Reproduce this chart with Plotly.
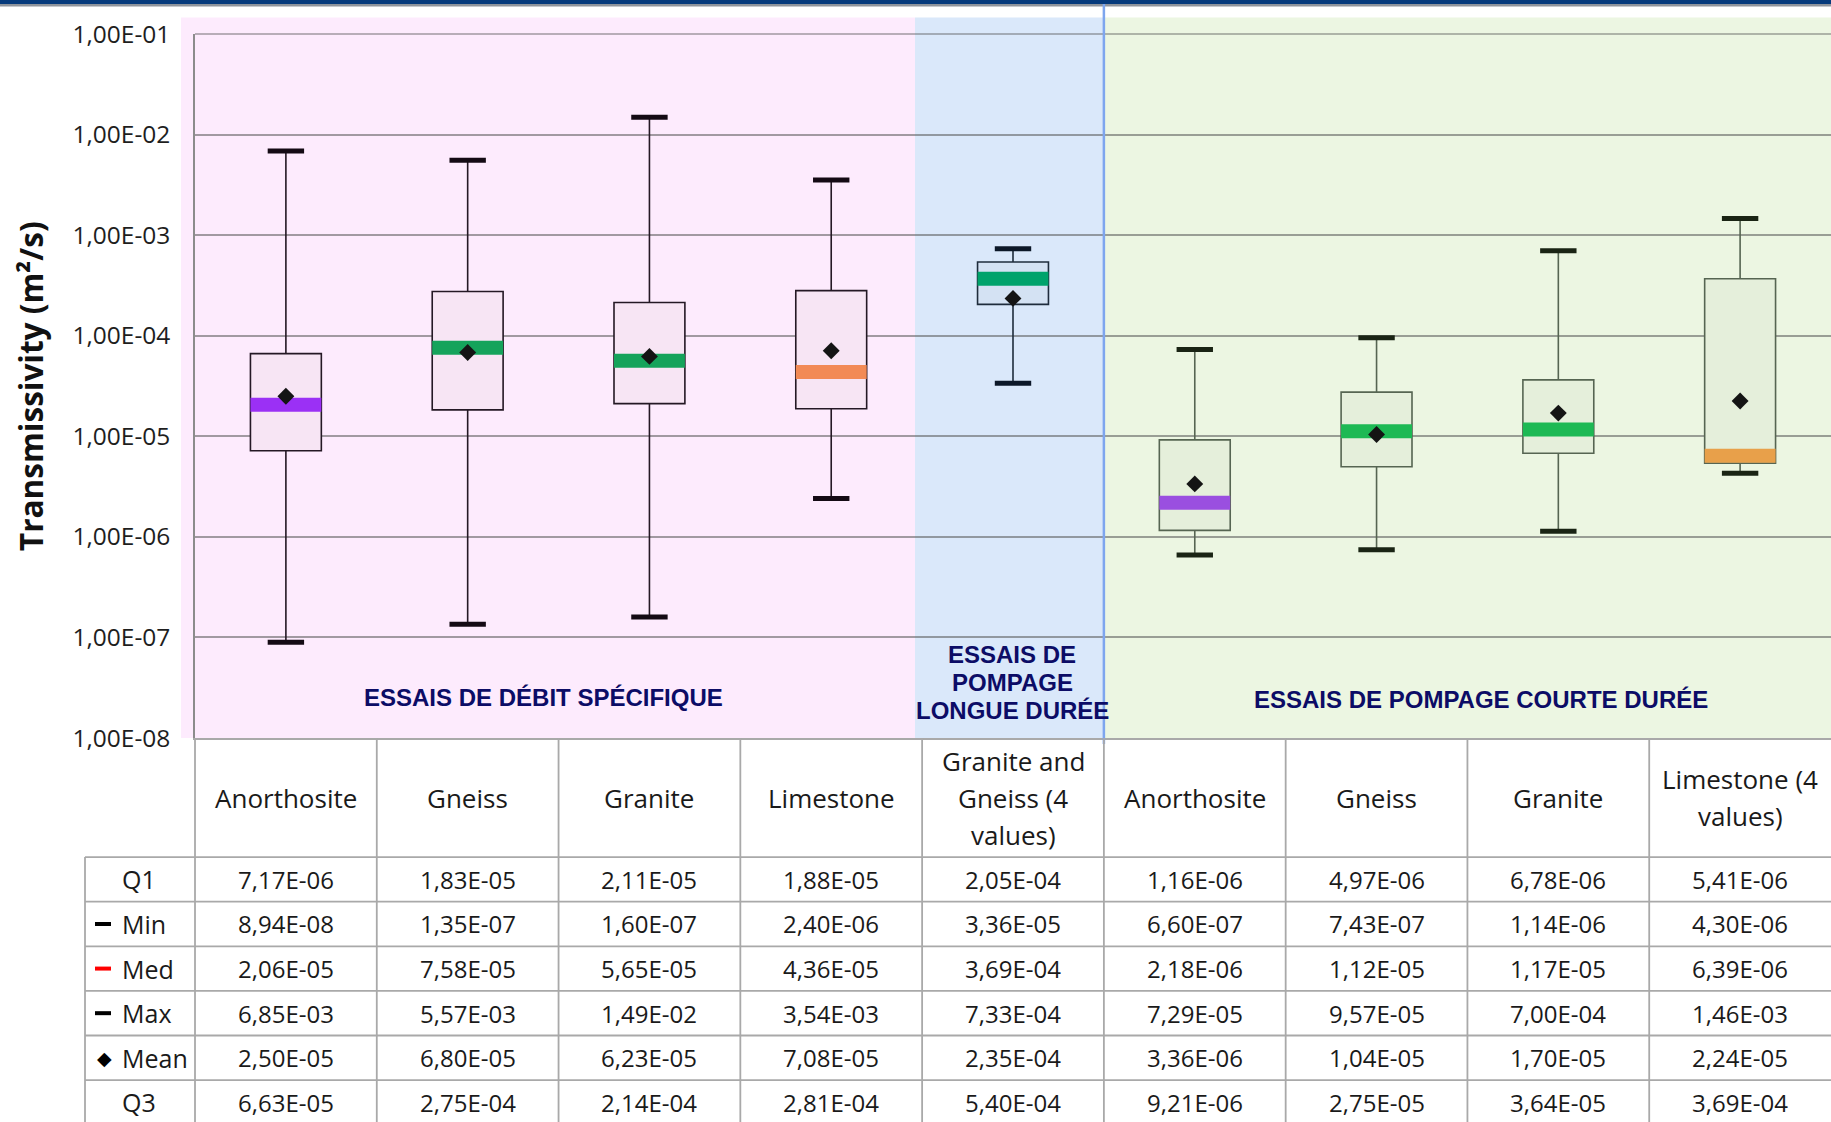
import plotly.graph_objects as go

# ---- Transmissivity statistics per test type and rock type (m²/s) ----
categories = ["Anorthosite", "Gneiss", "Granite", "Limestone",
              "Granite and Gneiss (4 values)", "Anorthosite", "Gneiss",
              "Granite", "Limestone (4 values)"]
header_lines = [["Anorthosite"], ["Gneiss"], ["Granite"], ["Limestone"],
                ["Granite and", "Gneiss (4", "values)"], ["Anorthosite"],
                ["Gneiss"], ["Granite"], ["Limestone (4", "values)"]]

q1_vals = [7.17e-06, 1.83e-05, 2.11e-05, 1.88e-05, 2.05e-04,
           1.16e-06, 4.97e-06, 6.78e-06, 5.41e-06]
min_vals = [8.94e-08, 1.35e-07, 1.60e-07, 2.40e-06, 3.36e-05,
            6.60e-07, 7.43e-07, 1.14e-06, 4.30e-06]
med_vals = [2.06e-05, 7.58e-05, 5.65e-05, 4.36e-05, 3.69e-04,
            2.18e-06, 1.12e-05, 1.17e-05, 6.39e-06]
max_vals = [6.85e-03, 5.57e-03, 1.49e-02, 3.54e-03, 7.33e-04,
            7.29e-05, 9.57e-05, 7.00e-04, 1.46e-03]
mean_vals = [2.50e-05, 6.80e-05, 6.23e-05, 7.08e-05, 2.35e-04,
             3.36e-06, 1.04e-05, 1.70e-05, 2.24e-05]
q3_vals = [6.63e-05, 2.75e-04, 2.14e-04, 2.81e-04, 5.40e-04,
           9.21e-06, 2.75e-05, 3.64e-05, 3.69e-04]

row_labels = ["Q1", "Min", "Med", "Max", "Mean", "Q3"]
# legend key drawn in front of each row label: None, "dash" or "diamond"
row_keys = [None, "dash", "dash", "dash", "diamond", None]
row_key_colors = ["#000000", "#000000", "#ff0000", "#000000", "#000000", "#000000"]

# test family of each rock column
group_index = [0, 0, 0, 0, 1, 2, 2, 2, 2]
group_titles = [["ESSAIS DE DÉBIT SPÉCIFIQUE"],
                ["ESSAIS DE", "POMPAGE", "LONGUE DURÉE"],
                ["ESSAIS DE POMPAGE COURTE DURÉE"]]

tick_vals = [1e-08, 1e-07, 1e-06, 1e-05, 1e-04, 1e-03, 1e-02, 1e-01]
tick_text = ["1,00E-08", "1,00E-07", "1,00E-06", "1,00E-05",
             "1,00E-04", "1,00E-03", "1,00E-02", "1,00E-01"]

# ---- styling ----
W, H = 1831, 1122
PLOT_L, PLOT_T, PLOT_B = 195, 34, 738
LABEL_COL_L = 85
HEADER_ROWS = 2.67          # header height in row units
TABLE_BOTTOM = 5.94         # visible part of the last row

group_bg = ["#fdebfd", "#dae8fa", "#ecf6e2"]
group_box_fill = ["#f7e5f4", "#d4e2f3", "#e5efdb"]
group_outline = ["#241824", "#1f2c3c", "#566552"]
group_cap = ["#140a14", "#0c1828", "#1a2414"]
group_bounds_px = [(181, 915), (915, 1103), (1103, W)]
group_title_px = [(543, 697), (1012, 682), (1481, 699)]
median_colors = ["#9b30f5", "#15a35b", "#15a35b", "#f28a55", "#00a36b",
                 "#9a4fe0", "#1db954", "#1db954", "#e8a04a"]

BOX_W = 0.39
FONT = "Open Sans"
TITLE_FONT = "Liberation Sans"
GRID_COLOR = "rgba(85,85,85,0.55)"


def px(x):
    return x / W


def py(y):
    return 1 - y / H


def fmt(v):
    return f"{v:.2E}".replace(".", ",")


fig = go.Figure()

# boxes and whiskers
for i in range(len(categories)):
    g = group_index[i]
    fig.add_trace(go.Box(
        x=[i], q1=[q1_vals[i]], median=[med_vals[i]], q3=[q3_vals[i]],
        lowerfence=[min_vals[i]], upperfence=[max_vals[i]],
        width=BOX_W, whiskerwidth=0, boxpoints=False,
        fillcolor=group_box_fill[g],
        line=dict(color=group_outline[g], width=1.6),
        showlegend=False, hoverinfo="skip", name=categories[i]))

# median bands
for i in range(len(categories)):
    fig.add_trace(go.Scatter(
        x=[i - BOX_W / 2, i + BOX_W / 2], y=[med_vals[i], med_vals[i]],
        mode="lines", line=dict(color=median_colors[i], width=14),
        showlegend=False, hoverinfo="skip"))

# whisker caps at min and max
for i in range(len(categories)):
    g = group_index[i]
    fig.add_trace(go.Scatter(
        x=[i, i], y=[min_vals[i], max_vals[i]], mode="markers",
        marker=dict(symbol="line-ew", size=26,
                    line=dict(width=5, color=group_cap[g])),
        showlegend=False, hoverinfo="skip"))

# means
fig.add_trace(go.Scatter(
    x=list(range(len(categories))), y=mean_vals, mode="markers",
    marker=dict(symbol="diamond", size=13, color="#141414"),
    showlegend=False, hoverinfo="skip"))

# anchor trace for the statistics table subplot
fig.add_trace(go.Scatter(x=[0], y=[0], xaxis="x", yaxis="y2", mode="markers",
                         marker=dict(opacity=0), showlegend=False,
                         hoverinfo="skip"))

shapes = []
annotations = []

# top banner
shapes.append(dict(type="rect", xref="paper", yref="paper", x0=0, x1=1,
                   y0=py(4), y1=1, fillcolor="#063a7c", line_width=0,
                   layer="below"))
shapes.append(dict(type="rect", xref="paper", yref="paper", x0=0, x1=1,
                   y0=py(6.5), y1=py(4), fillcolor="#8f949c", line_width=0,
                   layer="below"))

# coloured backgrounds for each test family
for g, (x0, x1) in enumerate(group_bounds_px):
    shapes.append(dict(type="rect", xref="paper", yref="paper",
                       x0=px(x0), x1=px(x1), y0=py(PLOT_B), y1=py(17.5),
                       fillcolor=group_bg[g], line_width=0, layer="below"))

# top gridline of the plot area
shapes.append(dict(type="line", xref="paper", yref="paper", x0=px(PLOT_L),
                   x1=1, y0=py(PLOT_T), y1=py(PLOT_T),
                   line=dict(color=GRID_COLOR, width=1.6), layer="below"))

# separator between long and short pumping tests
shapes.append(dict(type="line", xref="x", yref="paper", x0=4.5, x1=4.5,
                   y0=py(744), y1=py(4), line=dict(color="#7ea6ee", width=2.5)))

# family titles
for g, lines in enumerate(group_titles):
    cx, cy = group_title_px[g]
    n = len(lines)
    for j, txt in enumerate(lines):
        annotations.append(dict(
            xref="paper", yref="paper", x=px(cx),
            y=py(cy + (j - (n - 1) / 2) * 28), text=txt, showarrow=False,
            xanchor="center", yanchor="middle",
            font=dict(family=TITLE_FONT, size=24, color="#0c0c66",
                      weight="bold")))

# y-axis title
annotations.append(dict(xref="paper", yref="paper", x=px(31), y=py(386),
                        text="Transmissivity (m²/s)", textangle=-90,
                        showarrow=False, xanchor="center", yanchor="middle",
                        font=dict(family=FONT, size=31.5, color="#111111",
                                  weight="bold")))

# ---- statistics table ----
TABLE_LINE = dict(color="#a9a9a9", width=1.8)
for k in range(len(row_labels)):
    shapes.append(dict(type="line", xref="paper", yref="y2",
                       x0=px(LABEL_COL_L), x1=1, y0=k, y1=k, line=TABLE_LINE))
for c in range(1, len(categories)):
    shapes.append(dict(type="line", xref="x", yref="y2", x0=c - 0.5,
                       x1=c - 0.5, y0=-HEADER_ROWS, y1=TABLE_BOTTOM,
                       line=TABLE_LINE))
shapes.append(dict(type="line", xref="paper", yref="y2", x0=px(PLOT_L),
                   x1=px(PLOT_L), y0=-HEADER_ROWS, y1=TABLE_BOTTOM,
                   line=TABLE_LINE))
shapes.append(dict(type="line", xref="paper", yref="y2", x0=px(LABEL_COL_L),
                   x1=px(LABEL_COL_L), y0=0, y1=TABLE_BOTTOM,
                   line=TABLE_LINE))

# header cells
HEADER_LINE_STEP = 0.83
for i, lines in enumerate(header_lines):
    n = len(lines)
    for j, txt in enumerate(lines):
        annotations.append(dict(
            xref="x", yref="y2", x=i,
            y=-HEADER_ROWS / 2 + (j - (n - 1) / 2) * HEADER_LINE_STEP,
            text=txt, showarrow=False, xanchor="center", yanchor="middle",
            font=dict(family=FONT, size=26, color="#1a1a1a")))

# value cells
table_rows = [q1_vals, min_vals, med_vals, max_vals, mean_vals, q3_vals]
for k, values in enumerate(table_rows):
    for i, v in enumerate(values):
        annotations.append(dict(
            xref="x", yref="y2", x=i, y=k + 0.5, text=fmt(v),
            showarrow=False, xanchor="center", yanchor="middle",
            font=dict(family=FONT, size=24, color="#1a1a1a")))

# row labels with their legend keys
for k, label in enumerate(row_labels):
    annotations.append(dict(
        xref="paper", yref="y2", x=px(120), y=k + 0.5, text=label,
        showarrow=False, xanchor="left", yanchor="middle",
        font=dict(family=FONT, size=25, color="#1a1a1a")))
    if row_keys[k] == "dash":
        shapes.append(dict(type="line", xref="paper", yref="y2",
                           x0=px(95), x1=px(111), y0=k + 0.5, y1=k + 0.5,
                           line=dict(color=row_key_colors[k], width=4)))
    elif row_keys[k] == "diamond":
        annotations.append(dict(
            xref="paper", yref="y2", x=px(104), y=k + 0.5, text="◆",
            showarrow=False, xanchor="center", yanchor="middle",
            font=dict(family="DejaVu Sans", size=19,
                      color=row_key_colors[k])))

fig.update_layout(
    width=W, height=H,
    margin=dict(l=0, r=0, t=0, b=0, pad=0),
    autosize=False,
    paper_bgcolor="#ffffff",
    plot_bgcolor="rgba(0,0,0,0)",
    showlegend=False,
    shapes=shapes,
    annotations=annotations,
    xaxis=dict(domain=[px(PLOT_L), 1], range=[-0.5, len(categories) - 0.5],
               showgrid=False, zeroline=False, showticklabels=False,
               ticks="", showline=True, linecolor="#a9a9a9", linewidth=1.8,
               anchor="y", automargin=False),
    yaxis=dict(domain=[py(PLOT_B), py(PLOT_T)], type="log", range=[-8, -1],
               tickvals=tick_vals, ticktext=tick_text, ticks="",
               ticklabelstandoff=18,
               tickfont=dict(family=FONT, size=24.5, color="#1e1e1e"),
               showgrid=True, gridcolor=GRID_COLOR, gridwidth=1.6,
               showline=True, linecolor="#8c8c8c", linewidth=1.5,
               zeroline=False, anchor="x", automargin=False),
    yaxis2=dict(domain=[0, py(PLOT_B)], range=[TABLE_BOTTOM, -HEADER_ROWS],
                showgrid=False, zeroline=False, showticklabels=False,
                ticks="", showline=False, anchor="x", automargin=False),
)

fig.write_html("out.html", config=dict(displayModeBar=False))
